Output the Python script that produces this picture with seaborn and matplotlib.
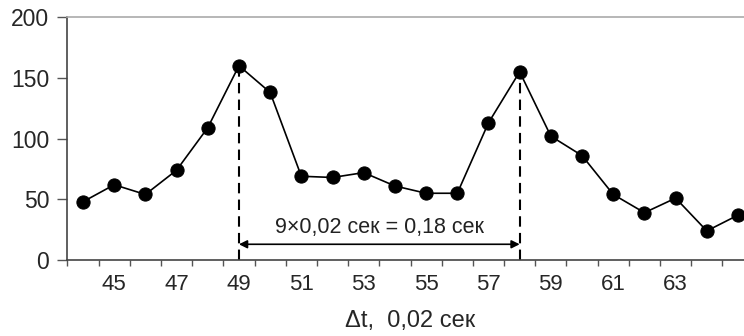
import numpy as np
import pandas as pd
import matplotlib
matplotlib.use('Agg')
import matplotlib.pyplot as plt
import seaborn as sns

# Data
frames = list(range(44, 66))
counts = [48, 62, 54, 74, 109, 160, 138, 69, 68, 72, 61, 55, 55, 113,
          155, 102, 86, 54, 39, 51, 24, 37]
tick_labels = [45, 47, 49, 51, 53, 55, 57, 59, 61, 63]
peak_frames = [49, 58]
arrow_level = 13
note = '9×0,02 сек = 0,18 сек'
xlabel = 'Δt,  0,02 сек'

df = pd.DataFrame({'frame': frames, 'count': counts})

sns.set_style('white')
plt.rcParams['font.family'] = ['Liberation Sans', 'DejaVu Sans']

fig = plt.figure(figsize=(7.44, 3.36), dpi=100)
ax = fig.add_axes([0.0906, 0.226, 0.9223, 0.723])

sns.lineplot(data=df, x='frame', y='count', color='black', linewidth=1.2,
             marker='o', markersize=9.5, markeredgecolor='black', ax=ax)

# dashed lines down from the two peaks
for f in peak_frames:
    peak = df.loc[df['frame'] == f, 'count'].iloc[0]
    ax.plot([f, f], [0, peak], color='black', linestyle=(0, (5, 3)), linewidth=1.5, zorder=1)

ax.annotate('', xy=(peak_frames[0], arrow_level), xytext=(peak_frames[1], arrow_level),
            arrowprops=dict(arrowstyle='<|-|>', color='black', lw=1.2,
                            mutation_scale=12, shrinkA=0, shrinkB=0))
ax.text(np.mean(peak_frames), 27, note, ha='center', va='center', fontsize=15.5, color='#222222')

ax.set_xlim(frames[0] - 0.5, frames[-1] + 0.5)
ax.set_ylim(0, 200)
ax.set_yticks([0, 50, 100, 150, 200])

# ticks on category boundaries, labels on category centres
ax.set_xticks(np.arange(frames[0] - 0.5, frames[-1] + 1, 1))
ax.set_xticklabels([])
ax.set_xticks(tick_labels, minor=True)
ax.set_xticklabels([str(t) for t in tick_labels], minor=True)
ax.tick_params(axis='x', which='major', direction='out', length=4, width=1, color='#555555', bottom=True)
ax.tick_params(axis='x', which='minor', length=0, pad=10, labelsize=16)
ax.tick_params(axis='y', direction='out', length=7, width=1, color='#555555', left=True, pad=6, labelsize=16.5)

ax.set_xlabel(xlabel, fontsize=17, labelpad=11)
ax.set_ylabel('')

for s in ['left', 'bottom']:
    ax.spines[s].set_color('#444444')
    ax.spines[s].set_linewidth(1.2)
ax.spines['top'].set_color('#aaaaaa')
ax.spines['top'].set_linewidth(1.2)
ax.spines['right'].set_visible(False)

fig.savefig('out.png', dpi=100)
plt.close(fig)
